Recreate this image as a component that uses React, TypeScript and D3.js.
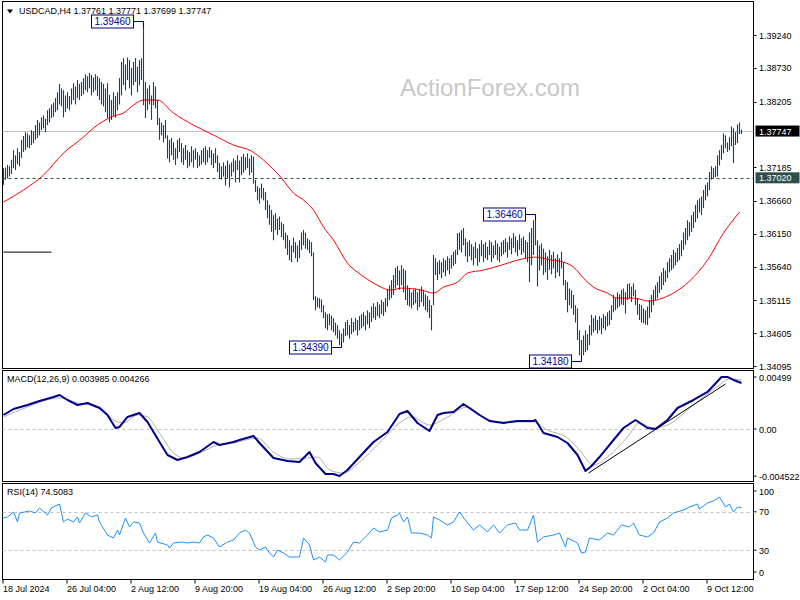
import React from 'react';
import * as d3 from 'd3';

// ---------- data ----------
const highs = [
  1.3717,1.3718,1.3722,1.3720,1.3730,1.3745,1.3737,1.3748,1.3742,1.3761,
  1.3767,1.3773,1.3771,1.3768,1.3776,1.3774,1.3784,1.3792,1.3788,1.3796,
  1.3799,1.3794,1.3807,1.3810,1.3816,1.3819,1.3826,1.3835,1.3848,1.3841,
  1.3838,1.3830,1.3835,1.3829,1.3841,1.3849,1.3844,1.3854,1.3848,1.3851,
  1.3857,1.3863,1.3860,1.3865,1.3862,1.3858,1.3863,1.3860,1.3857,1.3851,
  1.3848,1.3841,1.3849,1.3831,1.3823,1.3835,1.3829,1.3835,1.3857,1.3882,
  1.3888,1.3878,1.3889,1.3885,1.3873,1.3882,1.3888,1.3875,1.3885,1.3888,
  1.3946,1.3851,1.3841,1.3846,1.3830,1.3851,1.3844,1.3823,1.3795,1.3788,
  1.3784,1.3792,1.3768,1.3761,1.3764,1.3757,1.3748,1.3761,1.3764,1.3756,
  1.3748,1.3753,1.3745,1.3742,1.3751,1.3745,1.3748,1.3742,1.3737,1.3745,
  1.3748,1.3751,1.3745,1.3750,1.3745,1.3740,1.3748,1.3737,1.3725,1.3720,
  1.3726,1.3721,1.3729,1.3723,1.3726,1.3732,1.3729,1.3737,1.3729,1.3735,
  1.3739,1.3734,1.3740,1.3732,1.3737,1.3735,1.3699,1.3689,1.3686,1.3693,
  1.3686,1.3680,1.3667,1.3660,1.3652,1.3644,1.3647,1.3639,1.3642,1.3633,
  1.3630,1.3617,1.3613,1.3605,1.3597,1.3609,1.3602,1.3597,1.3605,1.3617,
  1.3621,1.3617,1.3608,1.3605,1.3602,1.3586,1.3518,1.3516,1.3515,1.3513,
  1.3504,1.3493,1.3490,1.3491,1.3488,1.3484,1.3477,1.3473,1.3465,1.3460,
  1.3468,1.3478,1.3481,1.3473,1.3484,1.3478,1.3484,1.3481,1.3487,1.3490,
  1.3493,1.3488,1.3496,1.3493,1.3502,1.3507,1.3502,1.3509,1.3505,1.3512,
  1.3509,1.3515,1.3528,1.3535,1.3543,1.3551,1.3562,1.3565,1.3558,1.3566,
  1.3561,1.3558,1.3535,1.3530,1.3524,1.3528,1.3530,1.3524,1.3528,1.3533,
  1.3528,1.3521,1.3518,1.3512,1.3504,1.3582,1.3577,1.3571,1.3574,1.3571,
  1.3577,1.3574,1.3580,1.3577,1.3582,1.3587,1.3590,1.3616,1.3617,1.3621,
  1.3624,1.3608,1.3602,1.3605,1.3599,1.3595,1.3602,1.3592,1.3599,1.3605,
  1.3599,1.3602,1.3595,1.3605,1.3602,1.3597,1.3605,1.3600,1.3595,1.3602,
  1.3605,1.3608,1.3602,1.3611,1.3608,1.3616,1.3611,1.3605,1.3614,1.3608,
  1.3611,1.3605,1.3602,1.3617,1.3624,1.3636,1.3646,1.3605,1.3597,1.3600,
  1.3592,1.3586,1.3580,1.3590,1.3582,1.3587,1.3577,1.3583,1.3577,1.3587,
  1.3571,1.3543,1.3540,1.3530,1.3527,1.3520,1.3504,1.3499,1.3465,1.3450,
  1.3457,1.3465,1.3459,1.3473,1.3489,1.3484,1.3488,1.3481,1.3487,1.3484,
  1.3490,1.3487,1.3493,1.3496,1.3504,1.3520,1.3515,1.3524,1.3521,1.3528,
  1.3530,1.3524,1.3537,1.3538,1.3533,1.3538,1.3528,1.3515,1.3506,1.3504,
  1.3499,1.3496,1.3502,1.3512,1.3520,1.3528,1.3535,1.3540,1.3549,1.3555,
  1.3562,1.3558,1.3571,1.3577,1.3582,1.3590,1.3586,1.3593,1.3599,1.3605,
  1.3617,1.3624,1.3636,1.3633,1.3644,1.3649,1.3660,1.3667,1.3670,1.3673,
  1.3683,1.3691,1.3695,1.3711,1.3720,1.3717,1.3720,1.3737,1.3745,1.3753,
  1.3771,1.3768,1.3757,1.3765,1.3782,1.3779,1.3773,1.3785,1.3788,1.3777,
];
const lows = [
  1.3691,1.3699,1.3701,1.3704,1.3708,1.3717,1.3714,1.3723,1.3720,1.3733,
  1.3742,1.3745,1.3749,1.3748,1.3753,1.3756,1.3761,1.3764,1.3768,1.3776,
  1.3779,1.3773,1.3784,1.3788,1.3795,1.3797,1.3804,1.3807,1.3816,1.3813,
  1.3796,1.3804,1.3810,1.3807,1.3816,1.3823,1.3816,1.3826,1.3823,1.3829,
  1.3832,1.3838,1.3835,1.3841,1.3830,1.3835,1.3838,1.3829,1.3823,1.3816,
  1.3813,1.3804,1.3795,1.3788,1.3792,1.3798,1.3795,1.3807,1.3816,1.3830,
  1.3846,1.3838,1.3854,1.3841,1.3830,1.3846,1.3851,1.3835,1.3846,1.3854,
  1.3815,1.3795,1.3807,1.3816,1.3792,1.3815,1.3810,1.3784,1.3761,1.3768,
  1.3757,1.3763,1.3732,1.3726,1.3737,1.3730,1.3722,1.3732,1.3742,1.3726,
  1.3722,1.3730,1.3717,1.3720,1.3726,1.3718,1.3730,1.3717,1.3720,1.3723,
  1.3726,1.3722,1.3726,1.3733,1.3722,1.3717,1.3725,1.3711,1.3701,1.3699,
  1.3704,1.3690,1.3701,1.3687,1.3704,1.3711,1.3695,1.3714,1.3695,1.3706,
  1.3710,1.3714,1.3717,1.3706,1.3710,1.3693,1.3680,1.3667,1.3662,1.3670,
  1.3667,1.3652,1.3639,1.3629,1.3618,1.3605,1.3621,1.3613,1.3621,1.3610,
  1.3605,1.3592,1.3582,1.3574,1.3571,1.3586,1.3577,1.3571,1.3577,1.3590,
  1.3597,1.3592,1.3590,1.3585,1.3580,1.3512,1.3496,1.3501,1.3499,1.3493,
  1.3484,1.3468,1.3465,1.3473,1.3465,1.3462,1.3457,1.3452,1.3442,1.3439,
  1.3446,1.3456,1.3457,1.3452,1.3459,1.3462,1.3465,1.3457,1.3465,1.3468,
  1.3471,1.3465,1.3474,1.3468,1.3478,1.3484,1.3481,1.3487,1.3484,1.3490,
  1.3487,1.3493,1.3502,1.3512,1.3515,1.3520,1.3530,1.3535,1.3528,1.3535,
  1.3524,1.3512,1.3504,1.3502,1.3499,1.3504,1.3507,1.3496,1.3501,1.3509,
  1.3502,1.3496,1.3493,1.3484,1.3465,1.3504,1.3551,1.3543,1.3552,1.3546,
  1.3555,1.3549,1.3558,1.3552,1.3561,1.3565,1.3568,1.3582,1.3590,1.3586,
  1.3597,1.3580,1.3571,1.3580,1.3574,1.3566,1.3577,1.3565,1.3571,1.3580,
  1.3571,1.3577,1.3574,1.3582,1.3571,1.3577,1.3582,1.3574,1.3571,1.3580,
  1.3583,1.3586,1.3578,1.3590,1.3583,1.3593,1.3586,1.3580,1.3590,1.3582,
  1.3586,1.3577,1.3571,1.3540,1.3566,1.3582,1.3597,1.3533,1.3558,1.3566,
  1.3551,1.3555,1.3543,1.3559,1.3552,1.3561,1.3546,1.3555,1.3549,1.3561,
  1.3535,1.3512,1.3493,1.3504,1.3499,1.3489,1.3477,1.3450,1.3426,1.3418,
  1.3426,1.3431,1.3434,1.3442,1.3457,1.3462,1.3465,1.3460,1.3465,1.3459,
  1.3468,1.3465,1.3471,1.3473,1.3481,1.3493,1.3496,1.3499,1.3502,1.3505,
  1.3504,1.3491,1.3512,1.3515,1.3509,1.3518,1.3504,1.3489,1.3481,1.3477,
  1.3476,1.3474,1.3473,1.3484,1.3493,1.3504,1.3512,1.3515,1.3523,1.3528,
  1.3535,1.3540,1.3546,1.3555,1.3558,1.3561,1.3566,1.3571,1.3574,1.3580,
  1.3590,1.3598,1.3605,1.3611,1.3618,1.3624,1.3633,1.3639,1.3648,1.3644,
  1.3655,1.3667,1.3673,1.3683,1.3699,1.3701,1.3703,1.3704,1.3721,1.3730,
  1.3740,1.3748,1.3742,1.3745,1.3751,1.3725,1.3753,1.3756,1.3770,1.3770,
];

const maBars = [0,10,20,30,40,45,50,55,60,65,70,77,85,95,105,115,124,130,139,145,150,155,160,165,172,179,185,194,199,209,215,220,227,232,240,249,257,266,274,280,285,290,295,302,307,315,323,328,335,343,352,360,368];
const maValues = [1.36643,1.36830,1.37063,1.37405,1.37654,1.37794,1.37902,1.37980,1.38027,1.38151,1.38229,1.38229,1.38027,1.37840,1.37685,1.37529,1.37436,1.37296,1.37016,1.36783,1.36674,1.36519,1.36254,1.36052,1.35694,1.35508,1.35383,1.35275,1.35306,1.35275,1.35228,1.35321,1.35399,1.35539,1.35586,1.35663,1.35741,1.35788,1.35741,1.35710,1.35632,1.35461,1.35321,1.35228,1.35150,1.35150,1.35103,1.35135,1.35228,1.35414,1.35741,1.36161,1.36487];

const macdBars = [0,5,12,18,25,28,32,37,42,48,52,56,58,62,68,72,75,78,82,87,92,98,105,108,115,118,125,128,135,142,148,153,156,161,165,168,172,178,185,192,198,202,207,213,217,220,225,230,238,243,250,257,265,266,270,277,282,287,291,294,298,305,310,316,322,326,332,337,345,352,359,362,365,369];
const macdValues = [0.001344,0.00192,0.002304,0.002688,0.003072,0.003264,0.002784,0.002304,0.002496,0.002016,0.001344,0.000096,0.000192,0.001152,0.001536,0.000672,-0.000288,-0.001248,-0.002496,-0.002976,-0.002688,-0.002208,-0.001248,-0.001536,-0.001248,-0.001056,-0.000672,-0.001344,-0.002784,-0.003072,-0.003168,-0.002208,-0.003264,-0.00432,-0.00432,-0.004512,-0.003936,-0.002688,-0.001248,-0.000288,0.00144,0.001728,0.000576,-0.000192,0.001344,0.001536,0.001632,0.0024,0.001344,0.000768,0.000576,0.000768,0.000768,0.000864,-0.000384,-0.000768,-0.001344,-0.002496,-0.004032,-0.003552,-0.002688,-0.001056,0.000096,0.000864,0.000096,0,0.000864,0.002016,0.002784,0.003552,0.004992,0.004992,0.004704,0.004416];

const signalBars = [0,12,28,37,48,55,60,67,72,78,85,90,98,107,115,127,135,143,152,157,163,170,178,188,198,204,213,222,232,240,248,265,272,282,288,295,302,312,318,325,332,345,358,363,369];
const signalValues = [0.001152,0.002112,0.002976,0.002496,0.002112,0.000864,0.000576,0.001344,0.001152,-0.000384,-0.002304,-0.002784,-0.002304,-0.001536,-0.001344,-0.000864,-0.002208,-0.00288,-0.002784,-0.002688,-0.003936,-0.004224,-0.003168,-0.001344,0.000576,0.001152,0.000384,0.001152,0.002112,0.001152,0.000672,0.000672,-0.000096,-0.000864,-0.002016,-0.003456,-0.002688,-0.000768,0.000576,0.000096,0.000384,0.002304,0.004224,0.0048,0.004704];

const rsiBars = [0,2,5,7,8,13,16,18,22,24,28,30,32,35,37,38,41,44,47,48,52,55,57,58,61,63,65,68,70,73,76,77,82,83,85,89,92,95,98,100,102,105,108,112,115,118,121,123,126,128,131,133,135,137,140,143,148,150,153,155,158,161,162,165,168,172,175,178,182,185,188,192,194,197,198,200,202,204,208,212,214,215,218,222,225,228,232,235,238,242,245,248,252,256,258,262,265,267,270,275,278,281,282,287,289,291,293,298,302,305,309,313,315,318,322,325,328,332,335,340,343,347,348,352,355,358,361,363,365,367,369];
const rsiValues = [63.5,64.6,69.8,59.4,68.8,70.8,68.8,74.0,66.7,74.0,78.1,59.4,62.5,59.4,64.6,58.3,68.8,64.6,66.7,59.4,45.8,42.7,51.0,45.8,63.5,54.2,59.4,58.3,47.9,37.5,47.9,38.5,35.4,32.3,37.5,38.5,37.5,38.5,37.5,43.8,45.8,42.7,33.3,38.5,40.6,47.9,51.0,47.9,33.3,30.2,33.3,27.1,22.9,30.2,27.1,22.9,22.9,42.7,35.4,19.8,22.9,17.7,25.0,25.0,19.8,28.1,38.5,37.5,45.8,53.1,49.0,51.0,63.5,66.7,68.8,59.4,64.6,47.9,47.9,45.8,42.7,64.6,61.5,56.3,59.4,69.8,58.3,51.0,56.3,49.0,56.3,47.9,56.3,58.3,51.0,51.0,66.7,38.5,43.8,45.8,47.9,33.3,42.7,37.5,27.1,28.1,42.7,40.6,47.9,45.8,56.3,54.2,58.3,45.8,43.8,47.9,59.4,63.5,68.8,71.9,75.0,78.1,72.9,79.2,81.3,85.4,75.0,78.1,69.8,75.0,74.5];

const timeLabels = ['18 Jul 2024','26 Jul 04:00','2 Aug 12:00','9 Aug 20:00','19 Aug 04:00','26 Aug 12:00','2 Sep 20:00','10 Sep 04:00','17 Sep 12:00','24 Sep 20:00','2 Oct 04:00','9 Oct 12:00'];
const timeBars = [0,32,64,96,128,160,192,224,256,288,320,352];

const priceTicks = [1.3924,1.3873,1.38205,1.37185,1.3666,1.3615,1.3564,1.35115,1.34605,1.34095];
const macdTicks = [0.00499,0,-0.004522];
const macdTickLabels = ['0.00499','0.00','-0.004522'];
const rsiLevels = [70,30];
const rsiTicks = [100,70,30,0];

const extremeBars = [70,169,266,289];
const extremePrices = [1.3946,1.3439,1.3646,1.3418];
const extremeIsHigh = [true,false,true,false];

const lastPrice = 1.37747;
const levelPrice = 1.3702;
const oldLinePrice = 1.35865;
const oldLineBars = [0,24];
const trendBars = [292.5,361];
const trendValues = [-0.004224,0.00432];

const headerText = 'USDCAD,H4  1.37761 1.37771 1.37699 1.37747';
const macdText = 'MACD(12,26,9) 0.003985 0.004266';
const rsiText = 'RSI(14) 74.5083';

// ---------- layout ----------
const W = 800, H = 600;
const L = 2.5, R = 753.5;
const mainTop = 1.5, mainBot = 368.5;
const macdTop = 370.5, macdBot = 481.5;
const rsiTop = 483.5, rsiBot = 579.5;
const FONT = "'Liberation Sans', Arial, sans-serif";

export default function App() {
  const n = highs.length;
  const x = d3.scaleLinear().domain([0, n - 1]).range([3.5, 3.5 + 2 * (n - 1)]);
  const y = d3.scaleLinear().domain([1.34095, 1.3924]).range([366, 35]);
  const ym = d3.scaleLinear().domain([0, 0.00499]).range([429, 377]);
  const yr = d3.scaleLinear().domain([0, 100]).range([579, 483]);

  const maLine = d3.line<number>().x((_, i) => x(maBars[i])).y(d => y(d)).curve(d3.curveMonotoneX);
  const macdLine = d3.line<number>().x((_, i) => x(macdBars[i])).y(d => ym(d));
  const sigLine = d3.line<number>().x((_, i) => x(signalBars[i])).y(d => ym(d)).curve(d3.curveMonotoneX);
  const rsiLine = d3.line<number>().x((_, i) => x(rsiBars[i])).y(d => yr(d));

  const fmt5 = d3.format('.5f');

  return (
    <svg width={W} height={H} style={{ position: 'fixed', left: 0, top: 0, background: '#fff' }}
      fontFamily={FONT} fontSize={9}>
      <rect x={0} y={0} width={W} height={H} fill="#fff" />
      {/* watermark */}
      <text x={400} y={96} fontSize={24} fill="#c8c8c8" fontFamily={FONT}>ActionForex.com</text>

      {/* panel frames */}
      <rect x={L} y={mainTop} width={R - L} height={mainBot - mainTop} fill="none" stroke="#000" />
      <rect x={L} y={macdTop} width={R - L} height={macdBot - macdTop} fill="none" stroke="#000" />
      <rect x={L} y={rsiTop} width={R - L} height={rsiBot - rsiTop} fill="none" stroke="#000" />

      {/* main panel */}
      <line x1={L} x2={R} y1={Math.round(y(lastPrice)) + 0.5} y2={Math.round(y(lastPrice)) + 0.5} stroke="#c0c0c0" />
      <line x1={L} x2={R} y1={Math.round(y(levelPrice)) + 0.5} y2={Math.round(y(levelPrice)) + 0.5} stroke="#2f4f4f" strokeDasharray="3,3" />
      <line x1={x(oldLineBars[0])} x2={x(oldLineBars[1])} y1={y(oldLinePrice)} y2={y(oldLinePrice)} stroke="#000" />

      <path d={maLine(maValues) || ''} fill="none" stroke="#ff0000" strokeWidth={1} />

      {highs.map((h, i) => (
        <line key={i} x1={x(i)} x2={x(i)} y1={y(h)} y2={y(lows[i])} stroke="#0f4464" strokeWidth={1.1} />
      ))}

      {extremeBars.map((b, k) => {
        const py = Math.round(y(extremePrices[k])) + 0.5;
        const bx = x(b);
        const bw = 42, bh = 13;
        const right = bx - 10;
        return (
          <g key={k}>
            <polyline points={`${right},${py} ${bx},${py} ${bx},${py + (extremeIsHigh[k] ? 6 : -6)}`} fill="none" stroke="#000080" />
            <rect x={right - bw} y={py - bh / 2} width={bw} height={bh} fill="#fff" stroke="#000080" />
            <text x={right - bw / 2} y={py + 3.5} textAnchor="middle" fill="#0000a0" fontSize={10}>{fmt5(extremePrices[k])}</text>
          </g>
        );
      })}

      {/* header */}
      <path d="M7,9.5 L13,9.5 L10,13.5 Z" fill="#000" />
      <text x={19} y={14} fill="#000">{headerText}</text>

      {/* price axis */}
      {priceTicks.map((p, i) => (
        <g key={i}>
          <line x1={R} x2={R + 3} y1={Math.round(y(p)) + 0.5} y2={Math.round(y(p)) + 0.5} stroke="#000" />
          <text x={759} y={y(p) + 3.5} fill="#000">{fmt5(p)}</text>
        </g>
      ))}
      <rect x={R + 2} y={y(lastPrice) - 5.5} width={44} height={11} fill="#000" />
      <text x={759} y={y(lastPrice) + 3.5} fill="#fff">{fmt5(lastPrice)}</text>
      <rect x={R + 2} y={y(levelPrice) - 5.5} width={44} height={11} fill="#2f4f4f" />
      <text x={759} y={y(levelPrice) + 3.5} fill="#fff">{fmt5(levelPrice)}</text>

      {/* MACD panel */}
      <line x1={L} x2={R} y1={ym(0) + 0.5} y2={ym(0) + 0.5} stroke="#c0c0c0" strokeDasharray="3,3" />
      <path d={sigLine(signalValues) || ''} fill="none" stroke="#b0b0b0" strokeWidth={1} />
      <path d={macdLine(macdValues) || ''} fill="none" stroke="#00008b" strokeWidth={2} strokeLinejoin="round" />
      <line x1={x(trendBars[0])} x2={x(trendBars[1])} y1={ym(trendValues[0])} y2={ym(trendValues[1])} stroke="#000" strokeWidth={1} />
      <text x={7} y={382} fill="#000">{macdText}</text>
      {macdTicks.map((v, i) => (
        <g key={i}>
          <line x1={R} x2={R + 3} y1={ym(v)} y2={ym(v)} stroke="#000" />
          <text x={759} y={ym(v) + 3.5} fill="#000">{macdTickLabels[i]}</text>
        </g>
      ))}

      {/* RSI panel */}
      {rsiLevels.map((v, i) => (
        <line key={i} x1={L} x2={R} y1={Math.round(yr(v)) + 0.5} y2={Math.round(yr(v)) + 0.5} stroke="#c0c0c0" strokeDasharray="3,3" />
      ))}
      <path d={rsiLine(rsiValues) || ''} fill="none" stroke="#1e90ff" strokeWidth={1} />
      <text x={7} y={495} fill="#000">{rsiText}</text>
      {rsiTicks.map((v, i) => {
        const ty = v === 100 ? yr(v) + 8 : v === 0 ? yr(v) - 7 : yr(v);
        return (
          <g key={i}>
            <line x1={R} x2={R + 3} y1={ty} y2={ty} stroke="#000" />
            <text x={759} y={ty + 3.5} fill="#000">{v}</text>
          </g>
        );
      })}

      {/* time axis */}
      {timeBars.map((b, i) => (
        <g key={i}>
          <line x1={x(b) - 0.5} x2={x(b) - 0.5} y1={rsiBot} y2={rsiBot + 4} stroke="#000" />
          <text x={x(b) - 0.5} y={592} fill="#000">{timeLabels[i]}</text>
        </g>
      ))}
    </svg>
  );
}
